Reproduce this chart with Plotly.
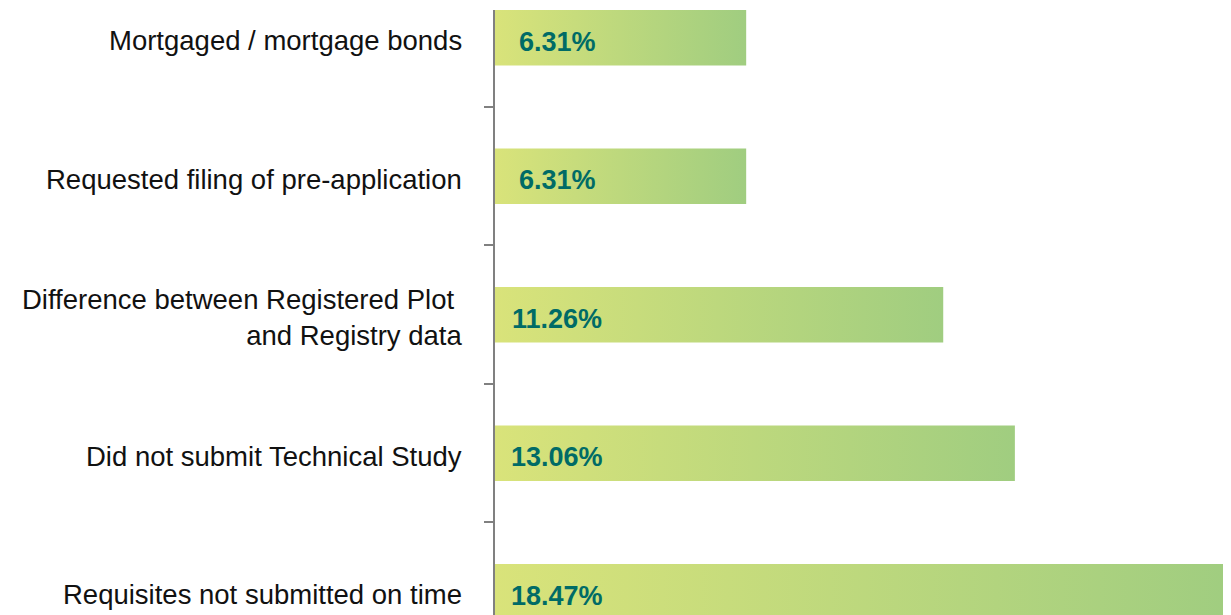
import plotly.graph_objects as go

categories = [
    "Mortgaged / mortgage bonds",
    "Requested filing of pre-application",
    "Difference between Registered Plot <br>and Registry data",
    "Did not submit Technical Study",
    "Requisites not submitted on time",
]
values = [6.31, 6.31, 11.26, 13.06, 18.47]
value_labels = ["6.31%", "6.31%", "11.26%", "13.06%", "18.47%"]

BAR_HALF = 0.2
FONT = "Liberation Sans, Arial, Helvetica, sans-serif"
grad = [[0, "#d9e37a"], [1, "#a0cd80"]]

fig = go.Figure()
for i, (cat, v) in enumerate(zip(categories, values)):
    fig.add_trace(go.Scatter(
        x=[0, v, v, 0, 0],
        y=[i - BAR_HALF, i - BAR_HALF, i + BAR_HALF, i + BAR_HALF, i - BAR_HALF],
        mode="lines",
        line=dict(width=0),
        fill="toself",
        fillgradient=dict(type="horizontal", colorscale=grad),
        name=cat.replace("<br>", ""),
        hoverinfo="skip",
        showlegend=False,
    ))

annotations = []
for i, (cat, lab) in enumerate(zip(categories, value_labels)):
    annotations.append(dict(
        x=0, y=i, xref="paper", yref="y", text=cat, showarrow=False,
        xanchor="right", yanchor="middle", align="right", xshift=-31, yshift=-3,
        font=dict(family=FONT, size=27.5, color="#111111"),
    ))
    annotations.append(dict(
        x=0, y=i, xref="x", yref="y", text="<b>%s</b>" % lab, showarrow=False,
        xanchor="center", yanchor="middle", xshift=62, yshift=-4,
        font=dict(family=FONT, size=27, color="#006b66"),
    ))

fig.update_layout(
    width=1231, height=615,
    margin=dict(l=487, r=0, t=2, b=0),
    paper_bgcolor="white", plot_bgcolor="white",
    showlegend=False,
    annotations=annotations,
    xaxis=dict(range=[0, 18.69], visible=False, fixedrange=True),
    yaxis=dict(
        range=[4.226, -0.2],
        tickvals=[0.5, 1.5, 2.5, 3.5],
        ticktext=["", "", "", ""],
        ticks="outside", ticklen=9, tickwidth=2, tickcolor="#808080",
        showline=True, linecolor="#808080", linewidth=2,
        showgrid=False, zeroline=False, fixedrange=True,
    ),
)

fig.write_html("out.html")
